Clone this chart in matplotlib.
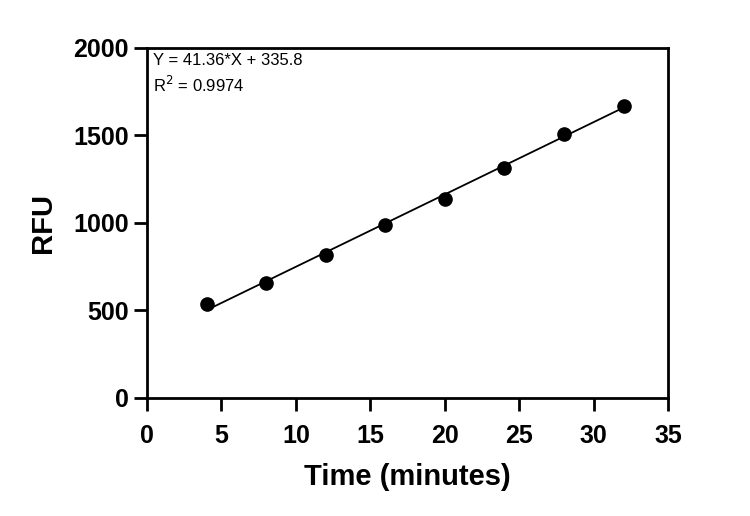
import numpy as np
import matplotlib.pyplot as plt

plt.rcParams['font.family'] = ['Liberation Sans', 'DejaVu Sans']

time_min = [4, 8, 12, 16, 20, 24, 28, 32]
rfu = [536, 659, 817, 986, 1134, 1315, 1506, 1671]
slope = 41.36
intercept = 335.8
r2 = 0.9974

fig = plt.figure(figsize=(7.5, 5.16), dpi=100)
ax = fig.add_axes([0.196, 0.229, 0.695, 0.678])

xs = np.array([min(time_min), max(time_min)])
ax.plot(xs, slope * xs + intercept, color="black", lw=1.3, zorder=2)
ax.plot(time_min, rfu, "o", color="black", markersize=9.5, zorder=3)

ax.set_xlim(0, 35)
ax.set_ylim(0, 2000)
ax.set_xticks(range(0, 36, 5))
ax.set_yticks(range(0, 2001, 500))

for s in ax.spines.values():
    s.set_linewidth(2)
ax.tick_params(direction="out", length=9.5, width=2, labelsize=18)
ax.tick_params(axis="x", pad=9)
ax.tick_params(axis="y", pad=3.5)
for lab in ax.get_xticklabels() + ax.get_yticklabels():
    lab.set_fontweight("bold")

ax.set_xlabel("Time (minutes)", fontsize=21, fontweight="bold", labelpad=11)
ax.set_ylabel("RFU", fontsize=21, fontweight="bold", labelpad=12)

ax.text(0.012, 0.985, f"Y = {slope}*X + {intercept}\nR$^2$ = {r2}",
        transform=ax.transAxes, ha="left", va="top", fontsize=12,
        linespacing=1.4)

fig.savefig("out.png", dpi=100)
